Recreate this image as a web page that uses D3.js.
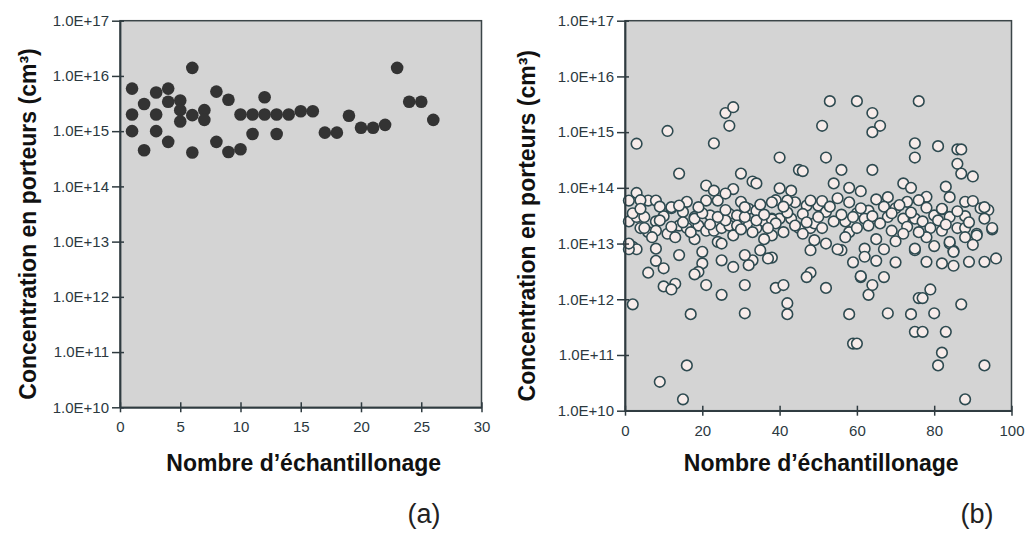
<!DOCTYPE html>
<html><head><meta charset="utf-8">
<script src="https://cdn.jsdelivr.net/npm/d3@7"></script>
<style>body{margin:0;background:#fff}svg{display:block}</style>
</head><body><svg id="c" width="1026" height="534"></svg>
<script>
// ---- shared tick data ----
const yTickValues = [1e10, 1e11, 1e12, 1e13, 1e14, 1e15, 1e16, 1e17];
const yTickLabels = ["1.0E+10", "1.0E+11", "1.0E+12", "1.0E+13", "1.0E+14", "1.0E+15", "1.0E+16", "1.0E+17"];
const aXTicks = [0, 5, 10, 15, 20, 25, 30];
const bXTicks = [0, 20, 40, 60, 80, 100];
const yTitle = "Concentration en porteurs (cm³)";
const xTitle = "Nombre d’échantillonage";
const panelLabels = ["(a)", "(b)"];

// ---- panel (a) data ----
const aSample = [1,1,1,2,2,3,3,3,4,4,4,5,5,5,6,6,6,7,7,8,8,9,9,10,10,11,11,12,12,13,13,14,15,16,17,18,19,20,21,22,23,24,25,26];
const aConc = [5.9e15,2.0e15,1.0e15,3.1e15,4.5e14,5.0e15,2.0e15,1.0e15,5.9e15,3.4e15,6.4e14,3.6e15,2.4e15,1.5e15,1.4e16,1.95e15,4.1e14,2.4e15,1.6e15,5.2e15,6.4e14,3.7e15,4.2e14,4.7e14,2.0e15,2.0e15,8.9e14,4.1e15,2.0e15,2.0e15,8.9e14,2.0e15,2.3e15,2.3e15,9.4e14,9.4e14,1.9e15,1.15e15,1.15e15,1.3e15,1.4e16,3.4e15,3.4e15,1.6e15];

// ---- panel (b) data ----
const bSample = [
 3,11,14,23,26,28,27,40,45,3,
 53,60,76,64,66,64,51,75,75,81,
 86,87,86,87,90,52,56,64,54,58,
 61,72,74,83,84,78,46,30,33,34,
 21,23,28,1,6,8,16,21,24,30,
 40,43,39,38,44,47,50,12,15,10,
 18,22,27,29,32,34,38,40,43,46,
 1,3,5,8,4,6,8,14,16,19,
 21,23,25,27,29,11,18,24,25,28,
 32,34,36,38,39,41,45,48,49,38,
 36,46,49,2,3,8,14,20,20,25,
 28,35,33,32,38,31,8,10,6,19,
 18,48,47,21,10,13,31,39,41,25,
 42,2,12,37,1,17,31,42,16,9,
 15,52,63,64,67,61,58,59,60,68,
 74,75,77,80,83,82,81,93,88,79,
 76,77,87,78,82,85,89,93,96,59,
 56,70,85,75,84,95,48,51,55,58,
 65,68,73,88,90,94,92,52,50,60,
 63,67,70,80,82,84,88,51,54,57,
 59,62,63,68,72,73,75,77,79,82,
 86,88,91,95,52,55,58,62,65,67,
 69,72,75,78,84,85,88,91,62,65,
 61,1,4,12,42,48,76,82,93,26,
 9,12,15,18,22,26,30,34,36,2,
 5,7,13,17,20,24,31,33,37,42,
 44,47,19,26,31,35,41,9,14,4,
 53,56,61,64,66,69,71,74,78,81,
 83,86,89,93,57,60,70,80,90,76];
const bConc = [
 6.2e14,1.05e15,1.8e14,6.3e14,2.2e15,2.8e15,1.3e15,3.5e14,2.1e14,8.1e13,
 3.6e15,3.6e15,3.6e15,2.2e15,1.3e15,1.0e15,1.3e15,6.3e14,3.5e14,5.6e14,
 4.9e14,4.9e14,2.7e14,1.8e14,1.6e14,3.5e14,2.1e14,2.1e14,1.2e14,1.0e14,
 8.7e13,1.2e14,1.0e14,1.05e14,6.8e13,6.9e13,2.0e14,1.8e14,1.3e14,1.2e14,
 1.1e14,8.9e13,9.5e13,5.9e13,5.9e13,5.9e13,5.6e13,5.9e13,5.9e13,5.6e13,
 9.8e13,8.9e13,6.0e13,5.5e13,5.5e13,4.8e13,4.8e13,4.3e13,3.7e13,3.1e13,
 3.0e13,3.2e13,3.4e13,3.2e13,4.2e13,3.9e13,2.8e13,2.8e13,2.8e13,3.4e13,
 2.5e13,3.0e13,3.0e13,2.5e13,1.9e13,1.6e13,1.7e13,2.1e13,1.9e13,2.1e13,
 1.7e13,1.7e13,1.9e13,2.1e13,2.1e13,1.5e13,1.2e13,1.07e13,1.0e13,1.4e13,
 2.1e13,1.9e13,2.5e13,2.7e13,2.3e13,1.6e13,1.9e13,1.9e13,2.3e13,1.4e13,
 1.2e13,1.5e13,1.15e13,8.7e12,7.9e12,8.1e12,6.2e12,7.1e12,4.4e12,5.0e12,
 3.8e12,7.6e12,5.0e12,4.1e12,5.6e12,6.2e12,4.9e12,3.6e12,3.0e12,3.1e12,
 2.8e12,3.0e12,2.5e12,1.8e12,1.7e12,1.9e12,1.8e12,1.6e12,1.8e12,1.2e12,
 8.5e11,8.1e11,1.5e12,5.4e12,7.9e12,5.4e11,5.6e11,5.4e11,6.5e10,3.3e10,
 1.6e10,1.6e12,1.2e12,1.8e12,2.5e12,2.5e12,5.4e11,1.6e11,1.6e11,5.6e11,
 5.4e11,2.6e11,2.6e11,5.6e11,2.6e11,1.1e11,6.5e10,6.5e10,1.6e10,1.5e12,
 1.05e12,1.05e12,8.1e11,4.7e12,4.4e12,4.0e12,4.7e12,4.7e12,5.4e12,4.6e12,
 7.6e12,4.6e12,7.4e12,7.6e12,1.0e13,1.8e13,7.6e12,5.8e13,6.5e13,5.5e13,
 6.2e13,6.8e13,5.6e13,5.6e13,5.8e13,4.0e13,4.3e13,3.7e13,3.0e13,3.5e13,
 3.9e13,4.6e13,4.3e13,3.2e13,4.1e13,3.0e13,3.1e13,1.9e13,2.5e13,2.5e13,
 3.0e13,2.8e13,2.1e13,3.0e13,2.8e13,2.0e13,2.8e13,2.5e13,1.9e13,1.7e13,
 1.9e13,1.9e13,1.5e13,1.9e13,1.0e13,7.9e12,1.6e13,8.1e12,1.2e13,7.9e12,
 1.7e13,1.5e13,8.1e12,1.3e13,1.07e13,7.1e12,1.3e13,1.4e13,5.8e12,4.9e12,
 2.6e12,1.0e13,6.0e13,4.5e13,5.9e13,5.9e13,6.0e13,4.2e13,4.5e13,7.9e13,
 2.6e13,2.0e13,2.4e13,2.8e13,2.2e13,2.6e13,1.8e13,2.6e13,3.3e13,3.5e13,
 1.9e13,1.3e13,1.3e13,1.6e13,3.5e13,3.0e13,3.0e13,1.6e13,1.9e13,3.6e13,
 2.1e13,2.4e13,4.5e13,4.0e13,4.5e13,5.0e13,4.6e13,4.6e13,4.8e13,4.2e13,
 4.6e13,3.3e13,4.3e13,3.1e13,2.3e13,3.5e13,4.9e13,3.6e13,4.4e13,2.6e13,
 2.2e13,3.8e13,2.4e13,2.8e13,1.3e13,1.9e13,1.1e13,9.0e12,9.5e12,1.6e13];

const FONT = "'Liberation Sans', Arial, Helvetica, sans-serif";
const svg = d3.select("#c");

function panel(cfg) {
  const g = svg.append("g");
  const x = d3.scaleLinear().domain(cfg.xDomain).range([cfg.left, cfg.right]);
  const y = d3.scaleLog().domain([1e10, 1e17]).range([cfg.bottom, cfg.top]);

  g.append("rect")
    .attr("x", cfg.left).attr("y", cfg.top)
    .attr("width", cfg.right - cfg.left).attr("height", cfg.bottom - cfg.top)
    .attr("fill", "#d4d4d4").attr("stroke", "#3b4548").attr("stroke-width", 1.5);

  // points
  const pts = cfg.xs.map((v, i) => [v, cfg.ys[i]]);
  g.append("g").selectAll("circle").data(pts).join("circle")
    .attr("cx", d => x(d[0])).attr("cy", d => y(d[1]))
    .attr("r", cfg.r)
    .attr("fill", cfg.fill)
    .attr("stroke", cfg.stroke)
    .attr("stroke-width", cfg.strokeWidth);

  // y axis
  const ya = g.append("g").attr("transform", `translate(${cfg.left},0)`)
    .call(d3.axisLeft(y).tickValues(yTickValues)
      .tickFormat((d, i) => yTickLabels[i]).tickSizeInner(8).tickSizeOuter(0).tickPadding(4));
  ya.selectAll(".tick line").attr("x1", 4).attr("stroke", "#2f3b40").attr("stroke-width", 1.5);
  ya.select(".domain").attr("stroke", "#2f3b40").attr("stroke-width", 1.8);
  ya.selectAll(".tick text").attr("font-family", FONT).attr("font-size", 15)
    .attr("fill", "#2c393f").attr("x", -11);

  // x axis
  const xa = g.append("g").attr("transform", `translate(0,${cfg.bottom})`)
    .call(d3.axisBottom(x).tickValues(cfg.xTicks).tickSizeInner(5).tickSizeOuter(0).tickPadding(8));
  xa.selectAll(".tick line").attr("y1", -5).attr("stroke", "#2f3b40").attr("stroke-width", 1.5);
  xa.select(".domain").attr("stroke", "#2f3b40").attr("stroke-width", 1.8);
  xa.selectAll(".tick text").attr("font-family", FONT).attr("font-size", 15)
    .attr("fill", "#2c393f").attr("dy", null).attr("y", 0)
    .attr("transform", "translate(0,25)");

  // titles
  g.append("text")
    .attr("transform", `translate(${cfg.yTitleX},${(cfg.top + cfg.bottom) / 2 + 10}) rotate(-90)`)
    .attr("text-anchor", "middle").attr("font-family", FONT).attr("font-weight", "bold")
    .attr("font-size", 23).attr("fill", "#111").text(yTitle);
  g.append("text")
    .attr("x", (cfg.left + cfg.right) / 2 + 3).attr("y", 471)
    .attr("text-anchor", "middle").attr("font-family", FONT).attr("font-weight", "bold")
    .attr("font-size", 23).attr("fill", "#111").text(xTitle);
  g.append("text")
    .attr("x", cfg.labelX).attr("y", 523)
    .attr("text-anchor", "middle").attr("font-family", FONT)
    .attr("font-size", 27).attr("fill", "#222").text(cfg.label);
}

panel({left: 120, right: 481.5, top: 20.7, bottom: 407.3, xDomain: [0, 30], xTicks: aXTicks,
  xs: aSample, ys: aConc, r: 6.3, fill: "#333333", stroke: "none", strokeWidth: 0,
  yTitleX: 36, labelX: 424, label: panelLabels[0]});
panel({left: 625, right: 1011.5, top: 20.7, bottom: 410.7, xDomain: [0, 100], xTicks: bXTicks,
  xs: bSample, ys: bConc, r: 5.3, fill: "#f7ecea", stroke: "#2e4a50", strokeWidth: 1.6,
  yTitleX: 535, labelX: 977, label: panelLabels[1]});
</script>
</body></html>
